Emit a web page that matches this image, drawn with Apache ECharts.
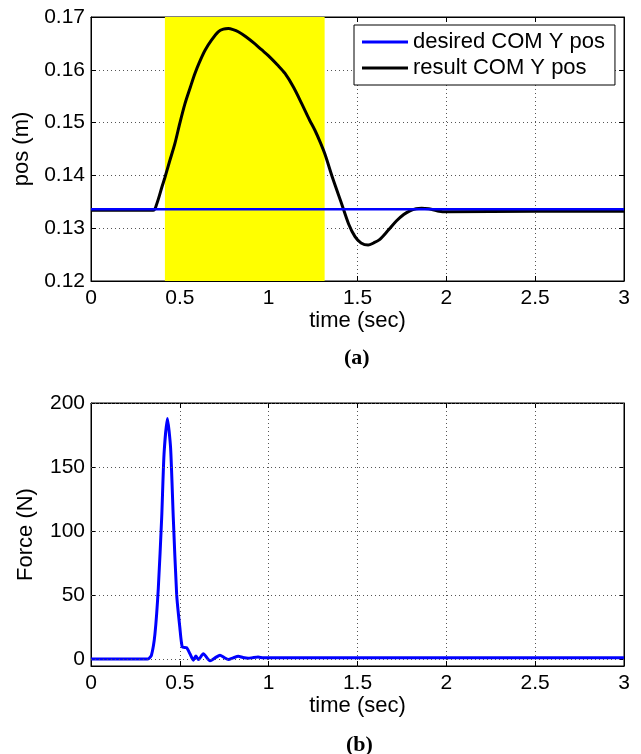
<!DOCTYPE html>
<html>
<head>
<meta charset="utf-8">
<script src="https://cdn.jsdelivr.net/npm/echarts@6/dist/echarts.min.js"></script>
<style>
  html, body { margin: 0; padding: 0; background: #fff; }
  #chart { width: 641px; height: 754px; }
</style>
</head>
<body>
<div id="chart"></div>
<script>
// ---- Data ----
// (a) COM Y position
const desiredT = [0, 3];
const desiredV = [0.1336, 0.1336];

const resultT = [0, 0.35, 0.37, 0.40, 0.416, 0.44, 0.472, 0.50, 0.529, 0.56, 0.585, 0.61, 0.642, 0.68, 0.716, 0.745, 0.773, 0.80, 0.829, 0.87, 0.923, 0.96, 0.998, 1.05, 1.092, 1.14, 1.186, 1.23, 1.261, 1.29, 1.317, 1.36, 1.411, 1.45, 1.486, 1.52, 1.56, 1.59, 1.626, 1.67, 1.72, 1.76, 1.795, 1.83, 1.861, 1.90, 1.926, 1.96, 2.0, 2.5, 3.0];
const resultV = [0.1334, 0.1334, 0.1346, 0.1379, 0.1396, 0.1424, 0.1460, 0.1499, 0.1536, 0.1568, 0.1593, 0.1614, 0.1637, 0.1657, 0.1672, 0.1677, 0.1678, 0.1676, 0.1672, 0.1663, 0.1649, 0.1638, 0.1627, 0.1609, 0.1593, 0.1567, 0.1536, 0.1505, 0.1485, 0.1463, 0.1440, 0.1395, 0.1346, 0.1308, 0.1284, 0.1272, 0.1268, 0.1272, 0.1279, 0.1295, 0.1314, 0.1326, 0.1333, 0.1337, 0.1338, 0.1337, 0.1335, 0.1332, 0.1331, 0.1332, 0.1332];

const highlightSpan = [0.416, 1.315];   // yellow shaded interval (sec)

// (b) Force
const forceT = [0, 0.32, 0.34, 0.36, 0.379, 0.398, 0.411, 0.43, 0.448, 0.463, 0.482, 0.50, 0.514, 0.538, 0.557, 0.576, 0.59, 0.605, 0.632, 0.67, 0.70, 0.726, 0.75, 0.773, 0.80, 0.829, 0.855, 0.885, 0.91, 0.94, 0.97, 1.0, 1.1, 1.5, 2.0, 2.5, 3.0];
const forceV = [0.5, 0.5, 3.3, 20, 56, 111, 160, 188, 165, 111, 51, 25, 9.8, 9.3, 4.5, -0.5, 2.8, 0, 4.6, -1, 1.5, 3.4, 1.5, 0, 1.3, 2.6, 1.6, 1, 1.5, 2, 1.4, 1.5, 1.4, 1.4, 1.4, 1.4, 1.4];

// tick labels
const xTicks = [0, 0.5, 1, 1.5, 2, 2.5, 3];
const posTicks = [0.12, 0.13, 0.14, 0.15, 0.16, 0.17];
const forceTicks = [0, 50, 100, 150, 200];

// ---- Chart ----
const FONT = '"Liberation Sans", Arial, Helvetica, sans-serif';
const zip = (t, v) => t.map((x, i) => [x, v[i]]);
const gridDot = { show: true, lineStyle: { color: '#555', width: 1, type: [1, 3] } };
const lbl = { color: '#000', fontSize: 21, fontFamily: FONT };
const nameStyle = { color: '#000', fontSize: 22, fontFamily: FONT };

function xAxisPair(gridIndex) {
  return [
    { type: 'value', gridIndex, min: 0, max: 3, interval: 0.5, position: 'bottom',
      axisLine: { show: true, onZero: false, lineStyle: { color: '#000', width: 1 } },
      axisTick: { show: true, inside: true, length: 5, lineStyle: { color: '#000' } },
      axisLabel: Object.assign({ margin: 7, formatter: v => String(v) }, lbl),
      splitLine: gridDot,
      name: 'time (sec)', nameLocation: 'middle', nameGap: 29,
      nameTextStyle: nameStyle },
    { type: 'value', gridIndex, min: 0, max: 3, interval: 0.5, position: 'top',
      axisLine: { show: true, onZero: false, lineStyle: { color: '#000', width: 1 } },
      axisTick: { show: true, inside: true, length: 5, lineStyle: { color: '#000' } },
      axisLabel: { show: false }, splitLine: { show: false } }
  ];
}

const option = {
  animation: false,
  backgroundColor: '#fff',
  grid: [
    { left: 91, right: 17, top: 17, height: 264, show: true, borderColor: '#000', borderWidth: 1, backgroundColor: 'transparent' },
    { left: 91, right: 17, top: 403, height: 263, show: true, borderColor: '#000', borderWidth: 1, backgroundColor: 'transparent' }
  ],
  xAxis: [].concat(xAxisPair(0), xAxisPair(1)),
  yAxis: [
    { type: 'value', gridIndex: 0, min: 0.12, max: 0.17, interval: 0.01, position: 'left',
      axisLine: { show: true, onZero: false, lineStyle: { color: '#000', width: 1 } },
      axisTick: { show: true, inside: true, length: 5, lineStyle: { color: '#000' } },
      axisLabel: Object.assign({ margin: 6, formatter: v => v.toFixed(2) }, lbl),
      splitLine: gridDot,
      name: 'pos (m)', nameLocation: 'middle', nameGap: 56, nameRotate: 90,
      nameTextStyle: nameStyle },
    { type: 'value', gridIndex: 0, min: 0.12, max: 0.17, interval: 0.01, position: 'right',
      axisLine: { show: true, onZero: false, lineStyle: { color: '#000', width: 1 } },
      axisTick: { show: true, inside: true, length: 5, lineStyle: { color: '#000' } },
      axisLabel: { show: false }, splitLine: { show: false } },
    { type: 'value', gridIndex: 1, min: -5, max: 200, position: 'left',
      axisLine: { show: true, onZero: false, lineStyle: { color: '#000', width: 1 } },
      axisTick: { show: true, inside: true, length: 5, lineStyle: { color: '#000' }, customValues: forceTicks },
      axisLabel: Object.assign({ margin: 6, customValues: forceTicks }, lbl),
      splitLine: { show: false },
      name: 'Force (N)', nameLocation: 'middle', nameGap: 54, nameRotate: 90,
      nameTextStyle: nameStyle },
    { type: 'value', gridIndex: 1, min: -5, max: 200, position: 'right',
      axisLine: { show: true, onZero: false, lineStyle: { color: '#000', width: 1 } },
      axisTick: { show: true, inside: true, length: 5, lineStyle: { color: '#000' }, customValues: forceTicks },
      axisLabel: { show: false }, splitLine: { show: false } }
  ],
  legend: {
    left: 354, top: 25, orient: 'vertical',
    backgroundColor: '#fff', borderColor: '#000', borderWidth: 1,
    padding: [6, 10, 6, 8], itemGap: 4, itemWidth: 46, itemHeight: 3, itemTextGap: 6,
    icon: 'rect',
    textStyle: { color: '#000', fontSize: 22, fontFamily: FONT },
    data: ['desired COM Y pos', 'result COM Y pos']
  },
  series: [
    { name: 'desired COM Y pos', type: 'line', xAxisIndex: 0, yAxisIndex: 0,
      data: zip(desiredT, desiredV), showSymbol: false, symbol: 'none',
      lineStyle: { color: '#0000ff', width: 2.5 }, itemStyle: { color: '#0000ff' }, z: 4,
      markArea: { silent: true, itemStyle: { color: '#ffff00', opacity: 1 },
        data: [[{ xAxis: highlightSpan[0], yAxis: 0.12 }, { xAxis: highlightSpan[1], yAxis: 0.17 }]] } },
    { name: 'result COM Y pos', type: 'line', xAxisIndex: 0, yAxisIndex: 0,
      data: zip(resultT, resultV), showSymbol: false, symbol: 'none', smooth: 0.3,
      lineStyle: { color: '#000', width: 3 }, itemStyle: { color: '#000' }, z: 3 },
    { name: 'force', type: 'line', xAxisIndex: 2, yAxisIndex: 2,
      data: zip(forceT, forceV), showSymbol: false, symbol: 'none', smooth: 0.2,
      lineStyle: { color: '#0000ff', width: 3 }, itemStyle: { color: '#0000ff' }, z: 3,
      markLine: { silent: true, symbol: 'none', label: { show: false },
        lineStyle: { color: '#555', width: 1, type: [1, 3] },
        data: forceTicks.map(v => ({ yAxis: v })) } }
  ],
  graphic: [
    { type: 'text', left: 344, top: 347, style: { text: '(a)', font: 'bold 22px "Liberation Serif", "Times New Roman", serif', fill: '#000' } },
    { type: 'text', left: 346, top: 734, style: { text: '(b)', font: 'bold 22px "Liberation Serif", "Times New Roman", serif', fill: '#000' } }
  ]
};

const chart = echarts.init(document.getElementById('chart'), null, { renderer: 'canvas' });
chart.setOption(option);
</script>
</body>
</html>
